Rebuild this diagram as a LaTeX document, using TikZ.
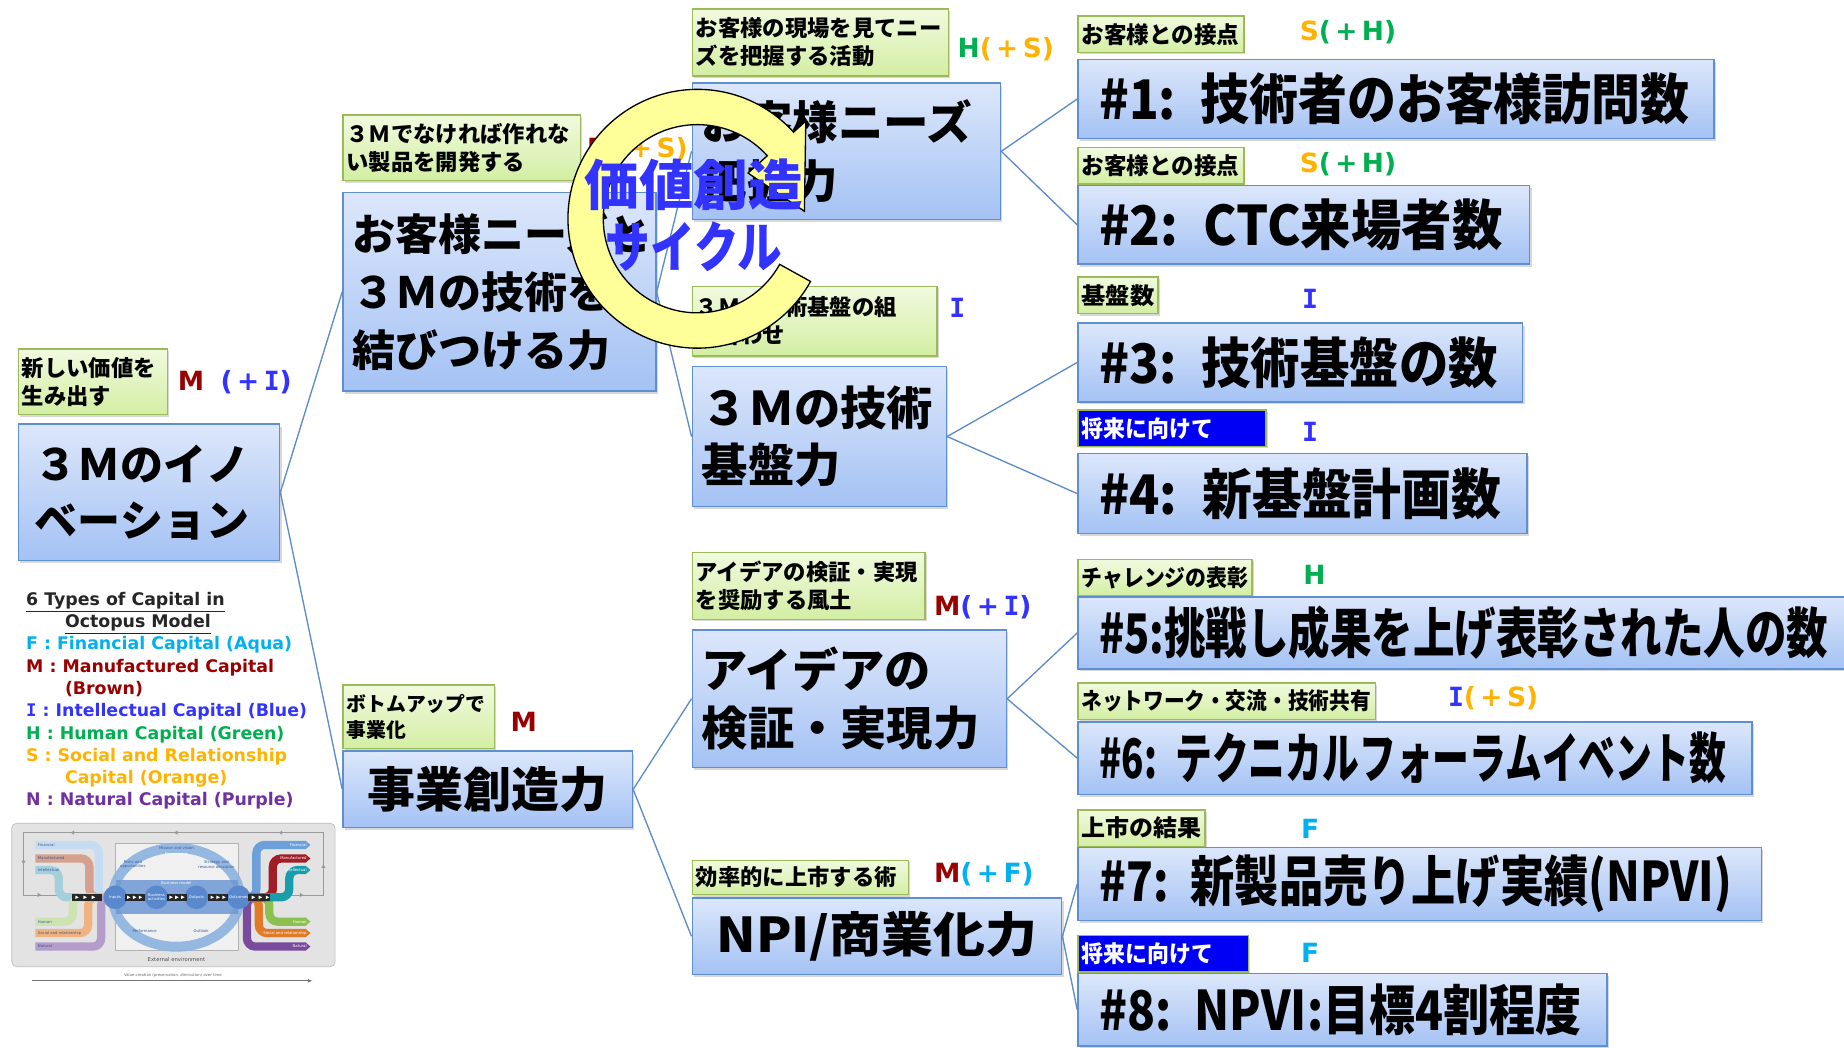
\documentclass[tikz,border=0pt]{standalone}
\usepackage{fontspec}
\usepackage{graphicx}
\setmainfont{Noto Sans CJK JP}
\newfontfamily\latinf{DejaVu Sans}
\newfontfamily\monof{DejaVu Sans Mono}
\usetikzlibrary{shadows,arrows.meta,calc}

\newlength\pxu
\setlength\pxu{0.025cm}
\newcommand\squeeze[2]{\resizebox{#1\pxu}{\height}{#2}}
\newcommand\jpf[2]{\fontsize{#1}{#2}\selectfont\bfseries}
\newcommand\capfont{\latinf\bfseries\fontsize{16}{18}\selectfont}
\newcommand\capw[2]{\textcolor{#1}{#2}}
\newcommand\serifI{{\monof\bfseries I}}
\newcommand\irfont{\latinf\fontsize{2.3}{2.7}\selectfont}

\definecolor{boxtop}{HTML}{DCE7FB}
\definecolor{boxbot}{HTML}{A4C2F4}
\definecolor{boxline}{HTML}{5F8FD3}
\definecolor{tagtop}{HTML}{F1FADF}
\definecolor{tagbot}{HTML}{D3EEA3}
\definecolor{tagline}{HTML}{9BBB59}
\definecolor{navy}{HTML}{0000F5}
\definecolor{linkblue}{HTML}{5B8BC8}
\definecolor{capF}{HTML}{00B0F0}
\definecolor{capM}{HTML}{990000}
\definecolor{capI}{HTML}{3333FF}
\definecolor{capH}{HTML}{00B050}
\definecolor{capS}{HTML}{FFB300}
\definecolor{capN}{HTML}{7030A0}
\definecolor{ringfill}{HTML}{FFFF99}
\definecolor{legendgray}{HTML}{262626}
% octopus model colours
\definecolor{irback}{HTML}{E3E3E3}
\definecolor{irframe}{HTML}{BDBDBD}
\definecolor{irloop}{HTML}{9A9A9A}
\definecolor{irbox}{HTML}{F0F0F0}
\definecolor{irring}{HTML}{8CB2E0}
\definecolor{irmodel}{HTML}{6E99D4}
\definecolor{irnode}{HTML}{5A88CC}
\definecolor{irtext}{HTML}{3A5A9A}
\definecolor{inFin}{HTML}{C6DCF2}
\definecolor{inMan}{HTML}{D6A08E}
\definecolor{inInt}{HTML}{A3D0DA}
\definecolor{inHum}{HTML}{CDE4B0}
\definecolor{inSoc}{HTML}{F0B27E}
\definecolor{inNat}{HTML}{B49CCB}
\definecolor{outFin}{HTML}{6D9FDA}
\definecolor{outMan}{HTML}{A01E28}
\definecolor{outInt}{HTML}{1A9DAB}
\definecolor{outHum}{HTML}{8CC152}
\definecolor{outSoc}{HTML}{E07A26}
\definecolor{outNat}{HTML}{7A4A9C}

\begin{document}
\begin{tikzpicture}[x=0.025cm, y=0.025cm,
  mainbox/.style={draw=boxline, line width=1pt, top color=boxtop, bottom color=boxbot,
    anchor=north west, align=left, inner xsep=8\pxu, inner ysep=0pt,
    drop shadow={shadow xshift=1.2pt, shadow yshift=-1.5pt, opacity=0.3}},
  kpi/.style={mainbox, inner xsep=18\pxu, font=\jpf{33}{38}},
  tagbox/.style={draw=tagline, line width=0.9pt, top color=tagtop, bottom color=tagbot,
    anchor=north west, align=left, inner xsep=3\pxu, inner ysep=0pt, font=\jpf{13.5}{17},
    drop shadow={shadow xshift=1pt, shadow yshift=-1.2pt, opacity=0.3}},
  kpitag/.style={tagbox, font=\jpf{14}{16}, minimum height=31\pxu},
  navybox/.style={top color=navy, bottom color=navy, text=white},
  capital/.style={anchor=west, inner sep=0pt, font=\capfont},
  link/.style={draw=linkblue, line width=0.8pt},
  irlabel/.style={inner sep=0pt, font=\irfont, align=center},
  band/.style={line width=5pt, rounded corners=5pt}]
\useasboundingbox[fill=white] (0,0) rectangle (1568,-891);

% innovation
\node[tagbox, text width=121\pxu, minimum height=56\pxu] (t-new) at (15,-296) {新しい価値を\\生み出す};
\node[capital] (c-new) at (151,-325) {\capw{capM}{M}\hspace{14\pxu}\capw{capI}{(\,+\,\serifI)}};
\node[mainbox, font=\jpf{26}{34}, inner xsep=14\pxu, text width=194\pxu, minimum height=116\pxu] (innov) at (15,-360) {３Ｍのイノ\\ベーション};

\node[tagbox, text width=196\pxu, minimum height=56\pxu] (t-only) at (291,-97) {３Ｍでなければ作れな\\い製品を開発する};
\node[capital] (c-only) at (499,-127) {\capw{capM}{M}\capw{capS}{(\,+\,S)}};
\node[mainbox, font=\jpf{26}{35}, text width=250\pxu, minimum height=169\pxu] (bridge) at (291,-163) {お客様ニーズと\\３Ｍの技術を\\結びつける力};

\node[tagbox, font=\jpf{12}{16}, text width=123\pxu, minimum height=54\pxu] (t-bottom) at (291,-582) {ボトムアップで\\事業化};
\node[capital] (c-bottom) at (434,-614) {\capw{capM}{M}};
\node[mainbox, font=\jpf{29}{35}, align=center, text width=230\pxu, minimum height=65\pxu] (biz) at (291,-638) {事業創造力};

% second level
\node[tagbox, text width=212\pxu, minimum height=57\pxu] (t-site) at (588,-7) {お客様の現場を見てニー\\ズを把握する活動};
\node[capital] (c-site) at (814,-42) {\capw{capH}{H}\capw{capS}{(\,+\,S)}};
\node[mainbox, font=\jpf{27.5}{35.5}, text width=246\pxu, minimum height=116\pxu] (needs) at (588,-70) {お客様ニーズ\\把握力};

\node[tagbox, text width=202\pxu, minimum height=59\pxu] (t-base) at (588,-243) {３Ｍの技術基盤の組\\み合わせ};
\node[capital] (c-base) at (807,-262) {\capw{capI}{\serifI}};
\node[mainbox, font=\jpf{28}{35}, text width=200\pxu, minimum height=119\pxu] (base) at (588,-311) {３Ｍの技術\\基盤力};

\node[tagbox, text width=192\pxu, minimum height=57\pxu] (t-idea) at (588,-469) {アイデアの検証・実現\\を奨励する風土};
\node[capital] (c-idea) at (794,-516) {\capw{capM}{M}\capw{capI}{(\,+\,\serifI)}};
\node[mainbox, font=\jpf{28}{35}, text width=251\pxu, minimum height=117\pxu] (idea) at (588,-535) {アイデアの\\検証・実現力};

\node[tagbox, text width=178\pxu, minimum height=29\pxu] (t-npi) at (588,-731) {効率的に上市する術};
\node[capital] (c-npi) at (794,-743) {\capw{capM}{M}\capw{capF}{(\,+\,F)}};
\node[mainbox, font=\jpf{29}{35}, align=center, text width=298\pxu, minimum height=65\pxu] (npi) at (588,-763) {\squeeze{273}{NPI/商業化力}};

% KPIs
\node[kpitag, text width=135\pxu] (t-k1) at (916,-13) {\squeeze{134}{お客様との接点}};
\node[capital] (c-k1) at (1105,-27) {\capw{capS}{S}\capw{capH}{(\,+\,H)}};
\node[kpi, text width=505\pxu, minimum height=67\pxu] (k1) at (916,-50) {\squeeze{502}{\#1: 技術者のお客様訪問数}};

\node[kpitag, text width=135\pxu] (t-k2) at (916,-125) {\squeeze{134}{お客様との接点}};
\node[capital] (c-k2) at (1105,-140) {\capw{capS}{S}\capw{capH}{(\,+\,H)}};
\node[kpi, text width=348\pxu, minimum height=67\pxu] (k2) at (916,-157) {\squeeze{343}{\#2: CTC来場者数}};

\node[kpitag, text width=62\pxu] (t-k3) at (916,-235) {\squeeze{62}{基盤数}};
\node[capital] (c-k3) at (1107,-254) {\capw{capI}{\serifI}};
\node[kpi, text width=342\pxu, minimum height=67\pxu] (k3) at (916,-274) {\squeeze{339}{\#3: 技術基盤の数}};

\node[kpitag, navybox, text width=154\pxu] (t-k4) at (916,-348) {\squeeze{112}{将来に向けて}};
\node[capital] (c-k4) at (1107,-367) {\capw{capI}{\serifI}};
\node[kpi, text width=346\pxu, minimum height=68\pxu] (k4) at (916,-385) {\squeeze{342}{\#4: 新基盤計画数}};

\node[kpitag, text width=142\pxu] (t-k5) at (916,-475) {\squeeze{142}{チャレンジの表彰}};
\node[capital] (c-k5) at (1108,-489) {\capw{capH}{H}};
\node[kpi, text width=638\pxu, minimum height=61\pxu] (k5) at (916,-507) {\squeeze{620}{\#5:挑戦し成果を上げ表彰された人の数}};

\node[kpitag, text width=247\pxu] (t-k6) at (916,-580) {\squeeze{246}{ネットワーク・交流・技術共有}};
\node[capital] (c-k6) at (1231,-594) {\capw{capI}{\serifI}\capw{capS}{(\,+\,S)}};
\node[kpi, text width=537\pxu, minimum height=62\pxu] (k6) at (916,-613) {\squeeze{533}{\#6: テクニカルフォーラムイベント数}};

\node[kpitag, text width=102\pxu] (t-k7) at (916,-688) {\squeeze{102}{上市の結果}};
\node[capital] (c-k7) at (1106,-705) {\capw{capF}{F}};
\node[kpi, text width=545\pxu, minimum height=62\pxu] (k7) at (916,-720) {\squeeze{538}{\#7: 新製品売り上げ実績(NPVI)}};

\node[kpitag, navybox, text width=139\pxu] (t-k8) at (916,-795) {\squeeze{112}{将来に向けて}};
\node[capital] (c-k8) at (1106,-810) {\capw{capF}{F}};
\node[kpi, text width=414\pxu, minimum height=62\pxu] (k8) at (916,-827) {\squeeze{410}{\#8: NPVI:目標4割程度}};

\foreach \a/\b in {innov/bridge, innov/biz, bridge/needs, bridge/base, biz/idea, biz/npi,
  needs/k1, needs/k2, base/k3, base/k4, idea/k5, idea/k6, npi/k7, npi/k8}
  \draw[link] (\a.east) -- (\b.west);

% legend
\node[anchor=north west, inner sep=0pt, align=left, text=legendgray,
  font=\latinf\bfseries\fontsize{10.5}{13.5}\selectfont] (legend) at (22,-503) {%
  \underline{6 Types of Capital in}\\
  \hspace*{33\pxu}\underline{Octopus Model}\\
  \textcolor{capF}{F : Financial Capital (Aqua)}\\
  \textcolor{capM}{M : Manufactured Capital}\\
  \hspace*{33\pxu}\textcolor{capM}{(Brown)}\\
  \textcolor{capI}{\serifI\ : Intellectual Capital (Blue)}\\
  \textcolor{capH}{H : Human Capital (Green)}\\
  \textcolor{capS}{S : Social and Relationship}\\
  \hspace*{33\pxu}\textcolor{capS}{Capital (Orange)}\\
  \textcolor{capN}{N : Natural Capital (Purple)}};

% octopus model
\draw[fill=irback, draw=irframe, rounded corners=3pt] (10,-700) rectangle (285,-822);
\draw[irloop, line width=0.5pt] (70,-761) -- (20,-761) -- (20,-708) -- (275,-708) -- (275,-761) -- (232,-761);
\foreach \x in {60,148,237}
  \fill[irloop] (\x,-708) -- ++(3,1.8) -- ++(0,-3.6) -- cycle;
\fill[irloop] (20,-735) -- ++(-1.8,3) -- ++(3.6,0) -- cycle;
\fill[irloop] (275,-735) -- ++(-1.8,-3) -- ++(3.6,0) -- cycle;
\foreach \x in {35,258}
  \fill[irloop] (\x,-761) -- ++(-3,1.8) -- ++(0,-3.6) -- cycle;
\foreach \c/\y/\t in {inFin/-718.5/84, inMan/-730/76, inInt/-739.8/50, inHum/-783.7/62, inSoc/-793.4/75, inNat/-804.9/86}
  \draw[\c, band] (30,\y) -- (\t,\y) -- (\t,-763) -- (92,-763);
\foreach \c/\y/\t in {outNat/-804.9/210, outSoc/-793.4/220, outHum/-783.7/229, outFin/-718.5/218, outMan/-730/232, outInt/-739.8/246}
  \draw[\c, band, -{Triangle[length=3pt,width=5pt]}] (211,-763) -- (\t,-763) -- (\t,\y) -- (264,\y);
\draw[fill=irbox, draw=gray!60, line width=0.4pt] (98,-717) rectangle (203,-808);
\draw[irring, line width=6pt, opacity=0.9] (150,-763) ellipse [x radius=1.35cm, y radius=1.05cm];
\fill[irmodel, opacity=0.85] (99,-748) rectangle (202,-777);
\foreach \x in {98,133,167,203}
  \fill[irnode] (\x,-763) circle [radius=0.25cm];
\foreach \a/\b in {61/87, 106/123, 142/159, 177/194, 211/230}
  \fill[black!85] (\a,-760) rectangle (\b,-766);
\foreach \a in {64,71,78, 108,113,118, 144,149,154, 179,184,189, 214,220,226}
  \fill[white] (\a,-761.5) -- ++(3,-1.5) -- ++(-3,-1.5) -- cycle;
\foreach \n/\y/\t in {fin/-718.5/Financial, man/-730/Manufactured, int/-739.8/Intellectual,
  hum/-783.7/Human, soc/-793.4/Social and relationship, nat/-804.9/Natural} {
  \node[irlabel, anchor=west, text=irtext] (in-\n) at (32,\y) {\t};
  \node[irlabel, anchor=east, text=white] (out-\n) at (261,\y) {\t};
}
\node[irlabel, text=irtext] (ir-mission) at (150,-721) {Mission and vision};
\node[irlabel, text=white] (ir-gov) at (150,-726.5) {Governance};
\node[irlabel, text=irtext] (ir-risk) at (113,-735) {Risks and\\opportunities};
\node[irlabel, text=irtext] (ir-strategy) at (184,-735) {Strategy and\\resource allocation};
\node[irlabel, text=white] (ir-model) at (150,-751) {Business model};
\node[irlabel, text=white] (ir-in) at (98,-763) {Inputs};
\node[irlabel, text=white] (ir-act) at (133,-763) {Business\\activities};
\node[irlabel, text=white] (ir-outp) at (167,-763) {Outputs};
\node[irlabel, text=white] (ir-outc) at (203,-763) {Outcomes};
\node[irlabel, text=irtext] (ir-perf) at (123,-792) {Performance};
\node[irlabel, text=irtext] (ir-look) at (171,-792) {Outlook};
\node[irlabel, text=black!70, font=\latinf\fontsize{3.2}{3.6}\selectfont] (ir-env) at (150,-815.5) {External environment};
\node[irlabel, text=black!60] (ir-time) at (147,-829.5) {Value creation (preservation, diminution) over time};
\coordinate (time-a) at (27,-834);
\coordinate (time-b) at (266,-834);
\draw[black!55, line width=0.6pt, -{Latex[length=3pt]}] (time-a) -- (time-b);

% value creation cycle
\coordinate (hub) at (593,-186);
\draw[fill=ringfill, draw=black, line width=0.8pt]
  ($(hub)+(-29:2.75cm)$) arc[start angle=-29, end angle=-318, radius=2.75cm]
  -- ($(hub)+(42:3.1cm)$) -- ($(hub)+(4:2.28cm)$) -- ($(hub)+(42:1.45cm)$)
  -- ($(hub)+(42:2cm)$) arc[start angle=42, end angle=331, radius=2cm] -- cycle;
\node[align=center, inner sep=0pt, text=capI, font=\jpf{33}{37.7}] (vc-title) at (590,-183) {価値創造\\\squeeze{150}{サイクル}};
\end{tikzpicture}
\end{document}
